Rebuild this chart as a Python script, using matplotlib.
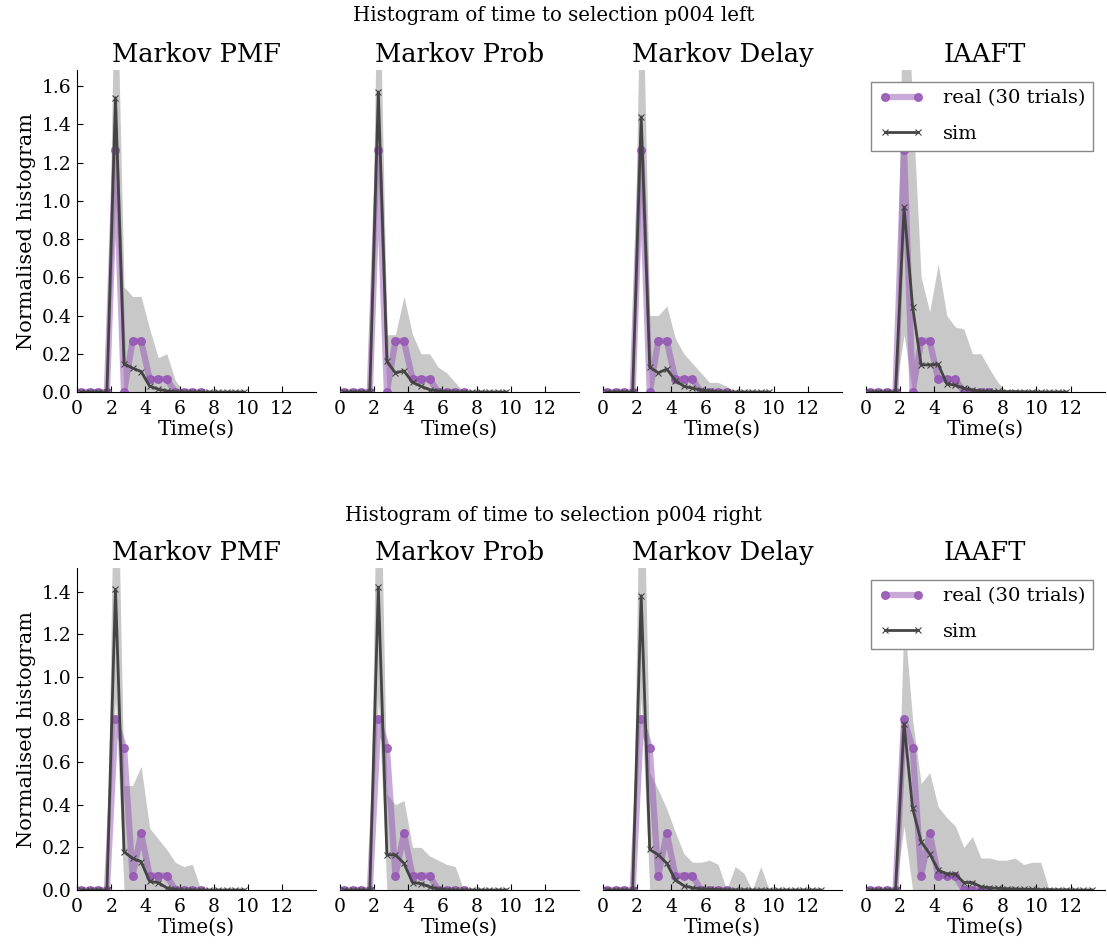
import numpy as np
import matplotlib
matplotlib.use('Agg')
import matplotlib.pyplot as plt

plt.rcParams['font.family'] = ['DejaVu Serif']

# titulos
row_titles = ['Histogram of time to selection p004 left',
              'Histogram of time to selection p004 right']
col_titles = ['Markov PMF', 'Markov Prob', 'Markov Delay', 'IAAFT']

# datos reales (30 ensayos), bins de 0.5 s
real_x = [0.25, 0.75, 1.25, 1.75, 2.25, 2.75, 3.25, 3.75, 4.25, 4.75, 5.25, 5.75, 6.25, 6.75, 7.25]
real_left = [0, 0, 0, 0, 1.267, 0, 0.267, 0.267, 0.067, 0.067, 0.067, 0, 0, 0, 0]
real_right = [0, 0, 0, 0, 0.8, 0.667, 0.067, 0.267, 0.067, 0.067, 0.067, 0, 0, 0, 0]

# simulaciones: media, banda superior e inferior
sim_x_pmf_l = [0.25, 0.75, 1.25, 1.75, 2.25, 2.75, 3.25, 3.75, 4.25, 4.75, 5.25, 5.75, 6.25,
               6.75, 7.25, 7.75, 8.25, 8.75, 9.25, 9.75]
sim_pmf_l = [0, 0, 0, 0, 1.54, 0.147, 0.125, 0.107, 0.03, 0.015, 0.005, 0.002, 0, 0, 0, 0, 0, 0, 0, 0]
hi_pmf_l = [0, 0, 0, 0, 2.5, 0.55, 0.5, 0.5, 0.33, 0.18, 0.2, 0.06, 0, 0, 0, 0, 0, 0, 0, 0]
lo_pmf_l = [0, 0, 0, 0, 1.0, 0, 0, 0, 0, 0, 0, 0, 0, 0, 0, 0, 0, 0, 0, 0]

sim_x_prob_l = [0.25, 0.75, 1.25, 1.75, 2.25, 2.75, 3.25, 3.75, 4.25, 4.75, 5.25, 5.75, 6.25,
                6.75, 7.25, 7.75, 8.25, 8.75, 9.25, 9.75]
sim_prob_l = [0, 0, 0, 0, 1.57, 0.16, 0.1, 0.11, 0.05, 0.03, 0.012, 0.005, 0.002, 0, 0, 0, 0, 0, 0, 0]
hi_prob_l = [0, 0, 0, 0, 2.5, 0.3, 0.3, 0.5, 0.3, 0.2, 0.2, 0.13, 0.1, 0.05, 0, 0, 0, 0, 0, 0]
lo_prob_l = [0, 0, 0, 0, 1.1, 0, 0, 0, 0, 0, 0, 0, 0, 0, 0, 0, 0, 0, 0, 0]

sim_x_delay_l = [0.25, 0.75, 1.25, 1.75, 2.25, 2.75, 3.25, 3.75, 4.25, 4.75, 5.25, 5.75, 6.25,
                 6.75, 7.25, 7.75, 8.25, 8.75, 9.25, 9.75]
sim_delay_l = [0, 0, 0, 0, 1.44, 0.13, 0.1, 0.12, 0.06, 0.03, 0.02, 0.01, 0.005, 0.002, 0, 0, 0, 0, 0, 0]
hi_delay_l = [0, 0, 0, 0, 2.5, 0.4, 0.4, 0.45, 0.28, 0.2, 0.15, 0.1, 0.05, 0.05, 0.03, 0, 0, 0, 0, 0]
lo_delay_l = [0, 0, 0, 0, 1.0, 0, 0, 0, 0, 0, 0, 0, 0, 0, 0, 0, 0, 0, 0, 0]

sim_x_iaaft_l = [0.25, 0.75, 1.25, 1.75, 2.25, 2.75, 3.25, 3.75, 4.25, 4.75, 5.25, 5.75, 6.25,
                 6.75, 7.25, 7.75, 8.25, 8.75, 9.25, 9.75, 10.25, 10.75, 11.25, 11.75]
sim_iaaft_l = [0, 0, 0, 0, 0.967, 0.446, 0.142, 0.142, 0.145, 0.043, 0.035, 0.02, 0.01, 0.005,
               0.004, 0.003, 0.002, 0.002, 0.001, 0.001, 0, 0, 0, 0]
hi_iaaft_l = [0, 0, 0, 0, 2.5, 1.5, 0.6, 0.42, 0.67, 0.4, 0.34, 0.33, 0.2, 0.2, 0.12, 0.05, 0,
              0, 0, 0, 0, 0, 0, 0]
lo_iaaft_l = [0, 0, 0, 0, 0.3, 0, 0, 0, 0, 0, 0, 0, 0, 0, 0, 0, 0, 0, 0, 0, 0, 0, 0, 0]

sim_x_pmf_r = [0.25, 0.75, 1.25, 1.75, 2.25, 2.75, 3.25, 3.75, 4.25, 4.75, 5.25, 5.75, 6.25,
               6.75, 7.25, 7.75, 8.25, 8.75, 9.25, 9.75]
sim_pmf_r = [0, 0, 0, 0, 1.41, 0.18, 0.148, 0.133, 0.04, 0.035, 0.01, 0.003, 0, 0, 0, 0, 0, 0, 0, 0]
hi_pmf_r = [0, 0, 0, 0, 2.5, 0.49, 0.49, 0.58, 0.29, 0.24, 0.19, 0.13, 0.11, 0.12, 0, 0, 0, 0, 0, 0]
lo_pmf_r = [0, 0, 0, 0, 0.9, 0, 0, 0, 0, 0, 0, 0, 0, 0, 0, 0, 0, 0, 0, 0]

sim_x_prob_r = [0.25, 0.75, 1.25, 1.75, 2.25, 2.75, 3.25, 3.75, 4.25, 4.75, 5.25, 5.75, 6.25,
                6.75, 7.25, 7.75, 8.25, 8.75, 9.25, 9.75]
sim_prob_r = [0, 0, 0, 0, 1.42, 0.165, 0.165, 0.125, 0.035, 0.03, 0.015, 0.005, 0.002, 0, 0, 0, 0, 0, 0, 0]
hi_prob_r = [0, 0, 0, 0, 2.5, 0.45, 0.4, 0.42, 0.2, 0.2, 0.16, 0.14, 0.12, 0.11, 0, 0, 0, 0, 0, 0]
lo_prob_r = [0, 0, 0, 0, 0.9, 0, 0, 0, 0, 0, 0, 0, 0, 0, 0, 0, 0, 0, 0, 0]

sim_x_delay_r = [0.25, 0.75, 1.25, 1.75, 2.25, 2.75, 3.25, 3.75, 4.25, 4.75, 5.25, 5.75, 6.25,
                 6.75, 7.25, 7.75, 8.25, 8.75, 9.25, 9.75, 10.25, 10.75, 11.25, 11.75, 12.25, 12.75]
sim_delay_r = [0, 0, 0, 0, 1.38, 0.19, 0.165, 0.125, 0.047, 0.02, 0.01, 0.005, 0.003, 0.002, 0.001,
               0.001, 0.001, 0, 0, 0, 0, 0, 0, 0, 0, 0]
hi_delay_r = [0, 0, 0, 0, 2.5, 0.55, 0.47, 0.38, 0.27, 0.17, 0.13, 0.13, 0.14, 0.12, 0, 0.11,
              0.08, 0, 0.11, 0, 0, 0, 0, 0, 0, 0]
lo_delay_r = [0, 0, 0, 0, 0.9, 0, 0, 0, 0, 0, 0, 0, 0, 0, 0, 0, 0, 0, 0, 0, 0, 0, 0, 0, 0, 0]

sim_x_iaaft_r = [0.25, 0.75, 1.25, 1.75, 2.25, 2.75, 3.25, 3.75, 4.25, 4.75, 5.25, 5.75, 6.25,
                 6.75, 7.25, 7.75, 8.25, 8.75, 9.25, 9.75, 10.25, 10.75, 11.25, 11.75, 12.25,
                 12.75, 13.25]
sim_iaaft_r = [0, 0, 0, 0, 0.78, 0.384, 0.227, 0.17, 0.094, 0.075, 0.075, 0.035, 0.035, 0.015,
               0.01, 0.008, 0.006, 0.005, 0.004, 0.003, 0.002, 0.002, 0.001, 0.001, 0, 0, 0]
hi_iaaft_r = [0, 0, 0, 0, 1.28, 0.8, 0.5, 0.55, 0.39, 0.34, 0.3, 0.2, 0.25, 0.15, 0.15, 0.14,
              0.14, 0.15, 0.12, 0.13, 0.13, 0, 0, 0, 0, 0, 0]
lo_iaaft_r = [0, 0, 0, 0, 0.3, 0, 0, 0, 0, 0, 0, 0, 0, 0, 0, 0, 0, 0, 0, 0, 0, 0, 0, 0, 0, 0, 0]

rows = [
    (real_left, [(sim_x_pmf_l, sim_pmf_l, lo_pmf_l, hi_pmf_l),
                 (sim_x_prob_l, sim_prob_l, lo_prob_l, hi_prob_l),
                 (sim_x_delay_l, sim_delay_l, lo_delay_l, hi_delay_l),
                 (sim_x_iaaft_l, sim_iaaft_l, lo_iaaft_l, hi_iaaft_l)], 1.685),
    (real_right, [(sim_x_pmf_r, sim_pmf_r, lo_pmf_r, hi_pmf_r),
                  (sim_x_prob_r, sim_prob_r, lo_prob_r, hi_prob_r),
                  (sim_x_delay_r, sim_delay_r, lo_delay_r, hi_delay_r),
                  (sim_x_iaaft_r, sim_iaaft_r, lo_iaaft_r, hi_iaaft_r)], 1.51),
]

purple = (0.58, 0.33, 0.70)
fig, axes = plt.subplots(2, 4, figsize=(11.07, 9.44), dpi=100)
fig.subplots_adjust(left=0.0696, right=0.998, bottom=0.0572, top=0.9258,
                    wspace=0.099, hspace=0.547)

for r, (real, sims, ytop) in enumerate(rows):
    for c in range(4):
        ax = axes[r, c]
        sx, sm, lo, hi = sims[c]
        ax.fill_between(sx, lo, hi, color='#c8c8c8', lw=0)
        ax.plot(real_x, real, '-o', color=purple + (0.5,), lw=4.5,
                markerfacecolor=purple + (0.8,), markeredgecolor=purple + (0.8,),
                markersize=5.5, label='real (30 trials)')
        ax.plot(sx, sm, '-x', color='#444444', lw=2, markersize=4.5,
                markeredgewidth=0.8, label='sim')
        ax.set_xlim(0, 14)
        ax.set_ylim(0, ytop)
        ax.set_xticks([0, 2, 4, 6, 8, 10, 12])
        ax.set_title(col_titles[c], fontsize=18.5)
        ax.set_xlabel('Time(s)', fontsize=14.5, labelpad=1)
        ax.spines['top'].set_visible(False)
        ax.spines['right'].set_visible(False)
        ax.tick_params(direction='in', length=4, labelsize=13.5, pad=6, top=False, right=False)
        if c == 0:
            ax.set_ylabel('Normalised histogram', fontsize=15)
            ax.set_yticks(np.arange(0, ytop, 0.2))
            ax.tick_params(axis='y', pad=4)
        else:
            ax.spines['left'].set_visible(False)
            ax.set_yticks([])
        if c == 3:
            ax.legend(loc='upper right', fontsize=14, numpoints=2, fancybox=False,
                      edgecolor='#888888', framealpha=1, handlelength=2.3,
                      handletextpad=1.0, labelspacing=0.9, borderaxespad=0.6)

fig.text(0.5, 0.984, row_titles[0], ha='center', va='center', fontsize=14.2)
fig.text(0.5, 0.454, row_titles[1], ha='center', va='center', fontsize=14.2)

plt.savefig('out.png')
